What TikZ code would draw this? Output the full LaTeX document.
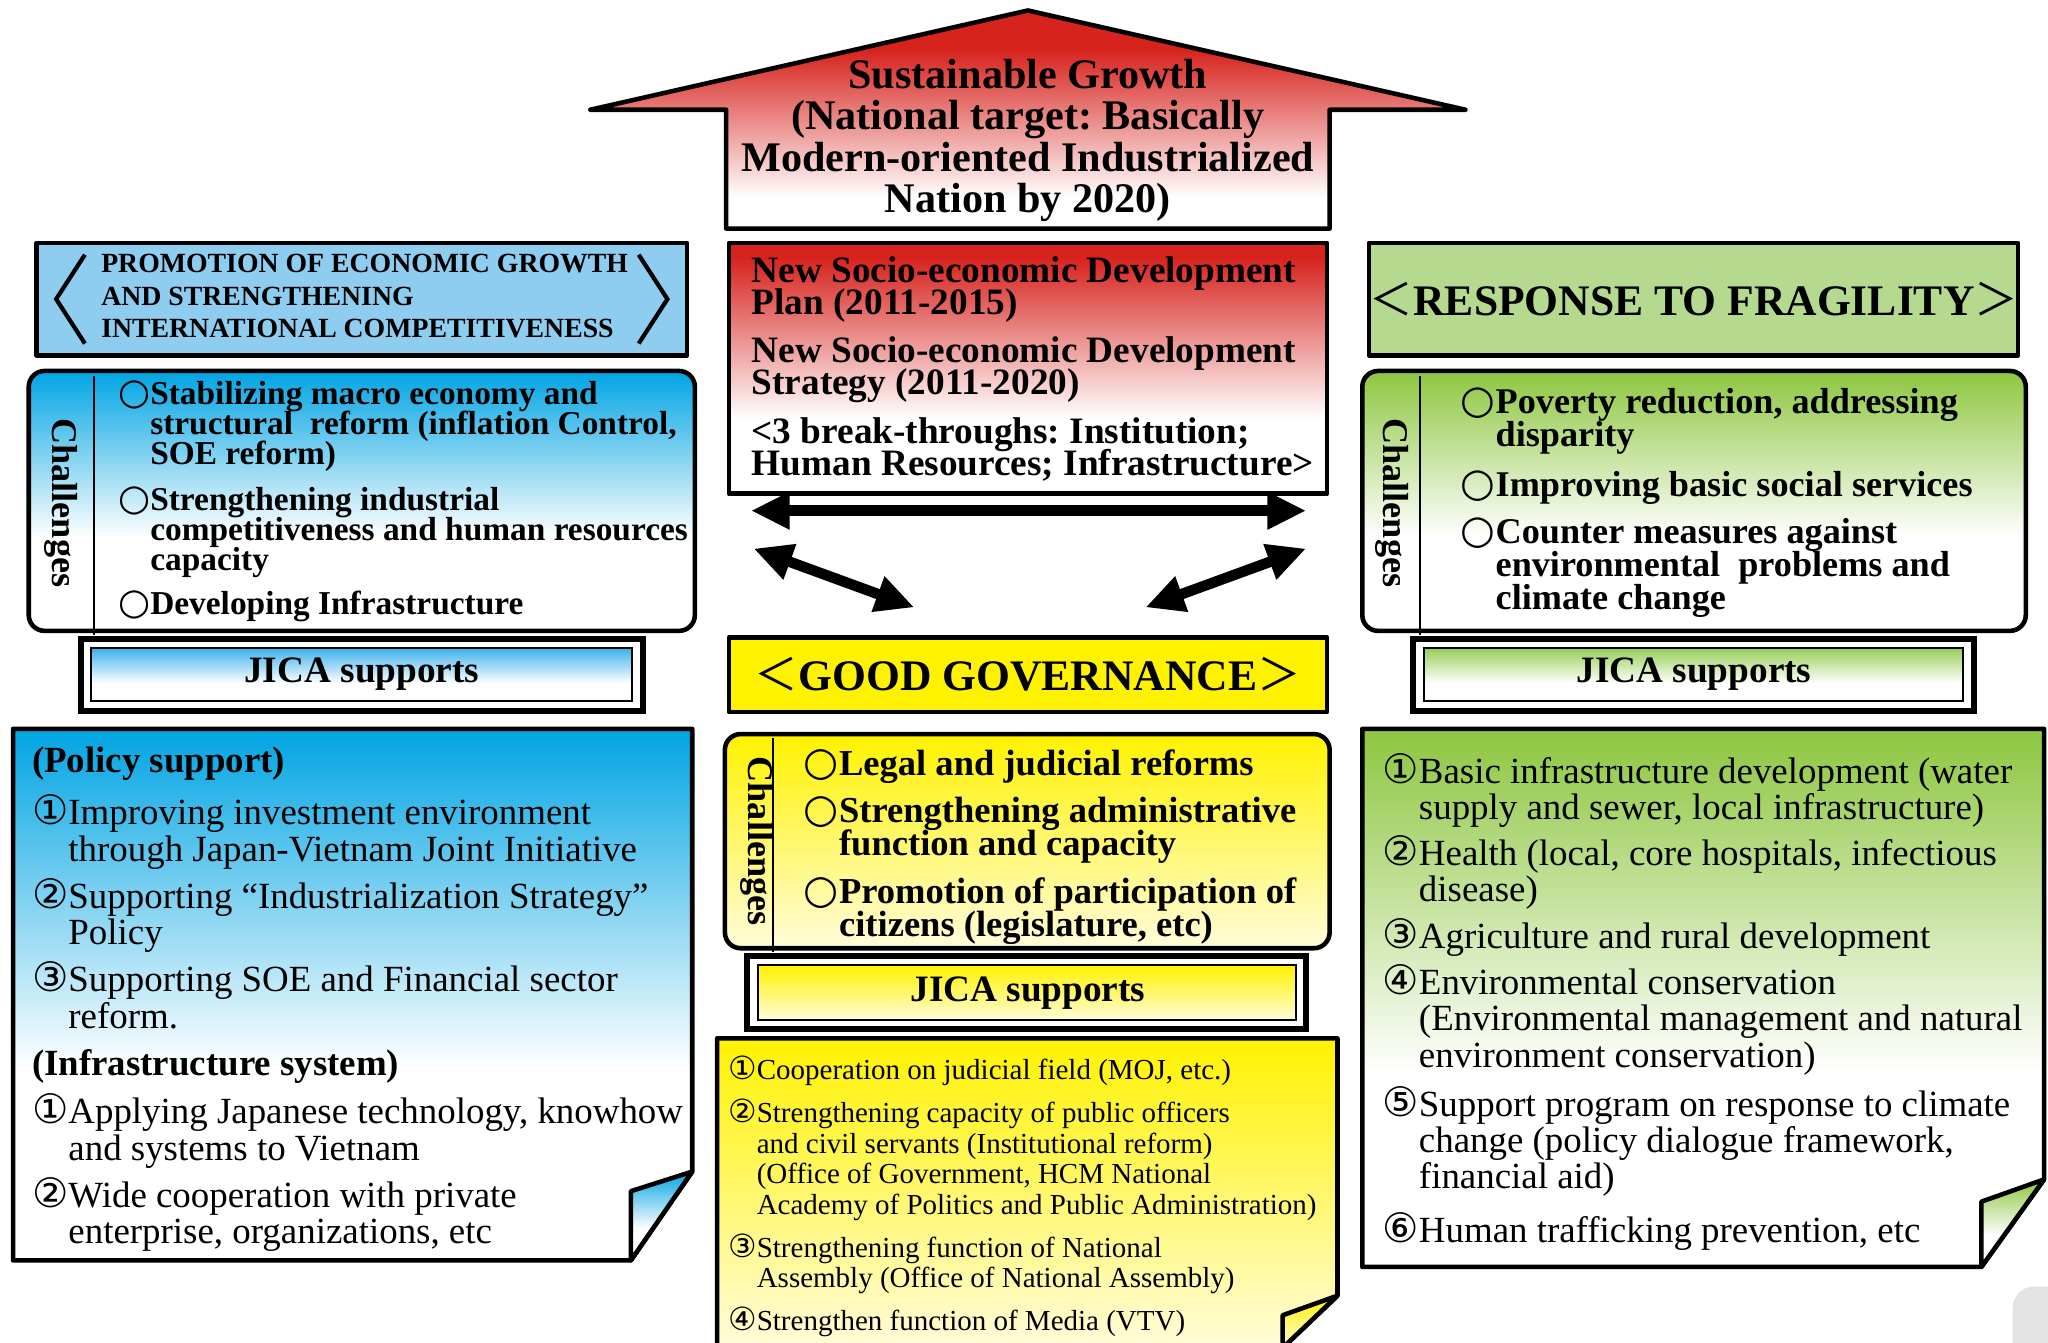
\documentclass[tikz,border=0pt]{standalone}
\usepackage{fontspec}
\setmainfont{Liberation Serif}
\newfontfamily\symfont[Scale=1.1]{DejaVu Sans}
\newfontfamily\cjkfont{Noto Sans CJK JP}
\usetikzlibrary{arrows.meta}
\frenchspacing
\definecolor{gsRed}{RGB}{215,35,30}
\definecolor{gsBlue}{RGB}{0,164,227}
\definecolor{gsJicaBlue}{RGB}{60,176,234}
\definecolor{gsLightBlue}{RGB}{142,205,240}
\definecolor{gsGreen}{RGB}{141,198,63}
\definecolor{gsJicaGreen}{RGB}{150,206,85}
\definecolor{gsLightGreen}{RGB}{181,218,143}
\definecolor{gsYellow}{RGB}{255,242,0}
\definecolor{gsPale}{RGB}{255,252,218}
\pgfdeclareverticalshading{arrowFade}{100bp}{color(0bp)=(white); color(32bp)=(white); color(66bp)=(gsRed); color(100bp)=(gsRed)}
\pgfdeclareverticalshading{planFade}{100bp}{color(0bp)=(white); color(40bp)=(white); color(72bp)=(gsRed); color(100bp)=(gsRed)}
\pgfdeclareverticalshading{blueFade}{100bp}{color(0bp)=(white); color(43bp)=(white); color(75bp)=(gsBlue); color(100bp)=(gsBlue)}
\pgfdeclareverticalshading{greenFade}{100bp}{color(0bp)=(white); color(43bp)=(white); color(75bp)=(gsGreen); color(100bp)=(gsGreen)}
\pgfdeclareverticalshading{yellowFade}{100bp}{color(0bp)=(gsPale); color(25bp)=(gsPale); color(75bp)=(gsYellow); color(100bp)=(gsYellow)}
\pgfdeclareverticalshading{jicaBlue}{100bp}{color(0bp)=(white); color(42bp)=(white); color(75bp)=(gsJicaBlue); color(100bp)=(gsJicaBlue)}
\pgfdeclareverticalshading{jicaGreen}{100bp}{color(0bp)=(white); color(42bp)=(white); color(75bp)=(gsJicaGreen); color(100bp)=(gsJicaGreen)}
\newcommand\wc{{\symfont ○}}
\newcommand\hw{\hphantom{\wc}}
\newcommand\cn[1]{{\symfont #1}}
\newcommand\hn{\hphantom{\cn{①}}}
\newcommand\lb{{\cjkfont\mdseries ＜}}
\newcommand\rb{{\cjkfont\mdseries ＞}}
\tikzstyle{frameBox}=[draw, line width=1.3pt, line join=round]
\tikzstyle{chalBox}=[draw, line width=1.3pt, rounded corners=4.5pt]
\tikzstyle{divLine}=[line width=0.6pt]
\tikzstyle{brk}=[line width=1.2pt]
\tikzstyle{jicaOuter}=[draw, line width=1.7pt, fill=white]
\tikzstyle{jicaInner}=[draw, line width=0.6pt]
\tikzstyle{dblArrow}=[line width=3pt, {Triangle[length=11pt,width=10pt]}-{Triangle[length=11pt,width=10pt]}]
\tikzstyle{goalText}=[font={\fontsize{12}{11.7}\selectfont\bfseries\lineskiplimit=-20pt}, align=center, anchor=north, inner sep=0pt]
\tikzstyle{headText}=[font={\fontsize{7.9}{9.3}\selectfont\bfseries\lineskiplimit=-20pt}, align=left, anchor=north west, inner sep=0pt]
\tikzstyle{planText}=[font={\fontsize{10.6}{9.1}\selectfont\bfseries\lineskiplimit=-20pt}, align=left, anchor=north west, inner sep=0pt]
\tikzstyle{chalLabel}=[font={\fontsize{10.3}{12}\selectfont\bfseries}, rotate=-90, inner sep=0pt]
\tikzstyle{ecoChal}=[font={\fontsize{9.5}{8.5}\selectfont\bfseries\lineskiplimit=-20pt}, align=left, anchor=north west, inner sep=0pt]
\tikzstyle{govChal}=[font={\fontsize{10.4}{9.5}\selectfont\bfseries\lineskiplimit=-20pt}, align=left, anchor=north west, inner sep=0pt]
\tikzstyle{fragChal}=[font={\fontsize{10.3}{9.4}\selectfont\bfseries\lineskiplimit=-20pt}, align=left, anchor=north west, inner sep=0pt]
\tikzstyle{suppText}=[font={\fontsize{10.5}{10.3}\selectfont\lineskiplimit=-20pt}, align=left, anchor=north west, inner sep=0pt]
\tikzstyle{smallText}=[font={\fontsize{8.25}{8.7}\selectfont\lineskiplimit=-20pt}, align=left, anchor=north west, inner sep=0pt]
\tikzstyle{jicaText}=[font={\fontsize{10.6}{12}\selectfont\bfseries}, inner sep=0pt]
\tikzstyle{bigHead}=[font={\fontsize{12.4}{14}\selectfont\bfseries}, inner sep=0pt]

\begin{document}
\begin{tikzpicture}[x=0.01306cm, y=-0.01306cm]
\useasboundingbox (0,0) rectangle (1568,1028);
\draw[frameBox, shade, shading=arrowFade] (452,84) -- (787,8) -- (1122,84) -- (1018,84) -- (1018,175) -- (556,175) -- (556,84) -- cycle;
\node[goalText] (goal) at (787,45) {Sustainable Growth\\(National target: Basically\\Modern-oriented Industrialized\\Nation by 2020)};

\draw[frameBox, fill=gsLightBlue] (28,186) rectangle (526,272);
\draw[brk] (65,195) -- (43,229) -- (65,263);
\draw[brk] (489,195) -- (511,229) -- (489,263);
\node[headText] (e0) at (77,194) {PROMOTION OF ECONOMIC GROWTH\\AND STRENGTHENING\\INTERNATIONAL COMPETITIVENESS};
\draw[chalBox, shade, shading=blueFade] (22,284) rectangle (532,483);
\draw[divLine] (72,288) -- (72,486);
\node[chalLabel] (e1) at (47,385) {Challenges};
\node[ecoChal] (e2) at (90,291) {\wc Stabilizing macro economy and\\\hw structural~ reform (inflation Control,\\\hw SOE reform)};
\node[ecoChal] (e3) at (90,372) {\wc Strengthening industrial\\\hw competitiveness and human resources\\\hw capacity};
\node[ecoChal] (e4) at (90,452) {\wc Developing Infrastructure};
\draw[jicaOuter] (62,489) rectangle (492,544);
\draw[jicaInner, shade, shading=jicaBlue] (70,496) rectangle (484,537);
\node[jicaText] (e5) at (277,516) {JICA supports};
\draw[frameBox, shade, shading=blueFade] (10,558) -- (530,558) -- (530,897) -- (483,965) -- (10,965) -- cycle;
\draw[frameBox, shade, shading=blueFade] (483,912) -- (530,897) -- (483,965) -- cycle;
\node[suppText] (e6) at (24,571) {\textbf{(Policy support)}};
\node[suppText] (e7) at (24,608) {\cn{①}Improving investment environment\\\hn through Japan-Vietnam Joint Initiative};
\node[suppText] (e8) at (24,672) {\cn{②}Supporting “Industrialization Strategy”\\\hn Policy};
\node[suppText] (e9) at (24,736) {\cn{③}Supporting SOE and Financial sector\\\hn reform.};
\node[suppText] (e10) at (24,803) {\textbf{(Infrastructure system)}};
\node[suppText] (e11) at (24,837) {\cn{①}Applying Japanese technology, knowhow\\\hn and systems to Vietnam};
\node[suppText] (e12) at (24,901) {\cn{②}Wide cooperation with private\\\hn enterprise, organizations, etc};

\draw[frameBox, shade, shading=planFade] (558,186) rectangle (1016,378);
\node[planText] (p1) at (575,196) {New Socio-economic Development\\Plan (2011-2015)};
\node[planText] (p2) at (575,257) {New Socio-economic Development\\Strategy (2011-2020)};
\node[planText] (p3) at (575,319) {<3 break-throughs: Institution;\\Human Resources; Infrastructure>};
\coordinate (a1) at (575,391);
\coordinate (a2) at (1000,391);
\coordinate (a3) at (577,420);
\coordinate (a4) at (700,465);
\coordinate (a5) at (1000,420);
\coordinate (a6) at (877,465);
\draw[dblArrow] (a1) -- (a2);
\draw[dblArrow] (a3) -- (a4);
\draw[dblArrow] (a5) -- (a6);

\draw[frameBox, fill=gsYellow] (558,488) rectangle (1016,545);
\node[bigHead] (g0) at (787,516) {\lb GOOD GOVERNANCE\rb};
\draw[chalBox, shade, shading=yellowFade] (555,562) rectangle (1018,726);
\draw[divLine] (592,565) -- (592,729);
\node[chalLabel] (g1) at (580,644) {Challenges};
\node[govChal] (g2) at (615,573) {\wc Legal and judicial reforms};
\node[govChal] (g3) at (615,609) {\wc Strengthening administrative\\\hw function and capacity};
\node[govChal] (g4) at (615,671) {\wc Promotion of participation of\\\hw citizens (legislature, etc)};
\draw[jicaOuter] (572,732) rectangle (1000,788);
\draw[jicaInner, shade, shading=yellowFade] (580,739) rectangle (992,781);
\node[jicaText] (g5) at (787,760) {JICA supports};
\draw[frameBox, shade, shading=yellowFade] (549,795) -- (1024,795) -- (1024,992) -- (982,1032) -- (549,1032) -- cycle;
\draw[frameBox, shade, shading=yellowFade] (982,1007) -- (1024,992) -- (982,1032) -- cycle;
\node[smallText] (g6) at (557,808) {\cn{①}Cooperation on judicial field (MOJ, etc.)};
\node[smallText] (g7) at (557,841) {\cn{②}Strengthening capacity of public officers\\\hn and civil servants (Institutional reform)\\\hn (Office of Government, HCM National\\\hn Academy of Politics and Public Administration)};
\node[smallText] (g8) at (557,944) {\cn{③}Strengthening function of National\\\hn Assembly (Office of National Assembly)};
\node[smallText] (g9) at (557,1000) {\cn{④}Strengthen function of Media (VTV)};

\draw[frameBox, fill=gsLightGreen] (1048,186) rectangle (1545,272);
\node[bigHead] (f0) at (1297,229) {\lb RESPONSE TO FRAGILITY\rb};
\draw[chalBox, shade, shading=greenFade] (1043,284) rectangle (1551,483);
\draw[divLine] (1087,288) -- (1087,486);
\node[chalLabel] (f1) at (1066,385) {Challenges};
\node[fragChal] (f2) at (1118,296) {\wc Poverty reduction, addressing\\\hw disparity};
\node[fragChal] (f3) at (1118,360) {\wc Improving basic social services};
\node[fragChal] (f4) at (1118,396) {\wc Counter measures against\\\hw environmental~ problems and\\\hw climate change};
\draw[jicaOuter] (1082,489) rectangle (1511,544);
\draw[jicaInner, shade, shading=jicaGreen] (1090,496) rectangle (1503,537);
\node[jicaText] (f5) at (1297,516) {JICA supports};
\draw[frameBox, shade, shading=greenFade] (1043,558) -- (1565,558) -- (1565,903) -- (1517,970) -- (1043,970) -- cycle;
\draw[frameBox, shade, shading=greenFade] (1517,920) -- (1565,903) -- (1517,970) -- cycle;
\node[suppText] (f6) at (1058,576) {\cn{①}Basic infrastructure development (water\\\hn supply and sewer, local infrastructure)};
\node[suppText] (f7) at (1058,639) {\cn{②}Health (local, core hospitals, infectious\\\hn disease)};
\node[suppText] (f8) at (1058,703) {\cn{③}Agriculture and rural development};
\node[suppText] (f9) at (1058,738) {\cn{④}Environmental conservation\\\hn (Environmental management and natural\\\hn environment conservation)};
\node[suppText] (f10) at (1058,831) {\cn{⑤}Support program on response to climate\\\hn change (policy dialogue framework,\\\hn financial aid)};
\node[suppText] (f11) at (1058,928) {\cn{⑥}Human trafficking prevention, etc};
\fill[gray!22, rounded corners=6pt] (1541,985) rectangle (1590,1045);
\end{tikzpicture}
\end{document}
